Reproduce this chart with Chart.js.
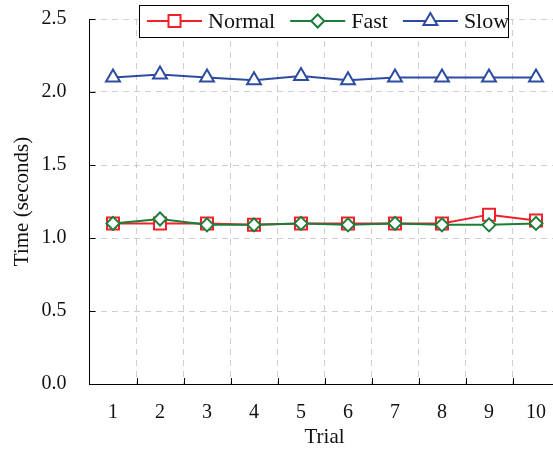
<!DOCTYPE html>
<html>
<head>
<meta charset="utf-8">
<title>Trial times</title>
<script src="https://cdn.jsdelivr.net/npm/chart.js@4.4.1/dist/chart.umd.min.js"></script>
<style>
  html, body { margin: 0; padding: 0; background: #fff; overflow: hidden; }
  #trialChart { display: block; }
</style>
</head>
<body>
<canvas id="trialChart" width="570" height="458"></canvas>
<script>
// --- data ---
const trials = ['1', '2', '3', '4', '5', '6', '7', '8', '9', '10'];
const normalTimes = [1.10, 1.10, 1.10, 1.09, 1.10, 1.10, 1.10, 1.10, 1.16, 1.12];
const fastTimes   = [1.10, 1.13, 1.09, 1.09, 1.10, 1.09, 1.10, 1.09, 1.09, 1.10];
const slowTimes   = [2.10, 2.12, 2.10, 2.08, 2.11, 2.08, 2.10, 2.10, 2.10, 2.10];
const yTicks = [0, 0.5, 1.0, 1.5, 2.0, 2.5];

const SERIF = "'Liberation Serif', 'Times New Roman', serif";
Chart.defaults.font.family = SERIF;
Chart.defaults.color = '#111';

// small tick marks pointing into the plot
const innerTicks = {
    id: 'innerTicks',
    beforeDatasetsDraw(chart) {
        const { ctx, chartArea, scales: { x, y } } = chart;
        ctx.save();
        ctx.strokeStyle = '#000';
        ctx.lineWidth = 1;
        ctx.beginPath();
        y.ticks.forEach(t => {
            const py = Math.round(y.getPixelForValue(t.value)) + 0.5;
            ctx.moveTo(chartArea.left, py);
            ctx.lineTo(chartArea.left + 6, py);
        });
        for (let i = 0; i < trials.length - 1; i++) {
            const px = Math.round((x.getPixelForValue(i) + x.getPixelForValue(i + 1)) / 2) + 0.5;
            ctx.moveTo(px, chartArea.bottom);
            ctx.lineTo(px, chartArea.bottom - 6);
        }
        ctx.stroke();
        ctx.restore();
    }
};

// boxed legend overlapping the top of the plot
const boxLegend = {
    id: 'boxLegend',
    afterDraw(chart) {
        const ctx = chart.ctx;
        const box = { left: 139, top: 5, right: 508, bottom: 37 };
        const cy = 21;
        ctx.save();
        ctx.fillStyle = '#fff';
        ctx.fillRect(box.left, box.top, box.right - box.left, box.bottom - box.top);
        ctx.strokeStyle = '#000';
        ctx.lineWidth = 1;
        ctx.strokeRect(box.left + 0.5, box.top + 0.5, box.right - box.left, box.bottom - box.top);

        ctx.font = '22px ' + SERIF;
        ctx.textBaseline = 'middle';
        ctx.textAlign = 'left';
        let cx = 147;
        chart.data.datasets.forEach(ds => {
            ctx.strokeStyle = ds.borderColor;
            ctx.lineWidth = 2;
            ctx.beginPath();
            ctx.moveTo(cx, cy);
            ctx.lineTo(cx + 55, cy);
            ctx.stroke();
            ctx.fillStyle = '#fff';
            Chart.helpers.drawPoint(ctx, {
                pointStyle: ds.pointStyle, radius: ds.pointRadius, borderWidth: 2, rotation: 0
            }, cx + 27.5, cy);
            ctx.fillStyle = '#111';
            ctx.fillText(ds.label, cx + 61, cy + 1);
            cx += 61 + ctx.measureText(ds.label).width + 15;
        });
        ctx.restore();
    }
};

function series(label, data, color, style, radius, order) {
    return {
        label, data, order,
        borderColor: color,
        backgroundColor: '#fff',
        borderWidth: 2,
        pointStyle: style,
        pointRadius: radius,
        pointBorderWidth: 2,
        pointBackgroundColor: '#fff',
        pointBorderColor: color,
        tension: 0
    };
}

new Chart(document.getElementById('trialChart'), {
    type: 'line',
    data: {
        labels: trials,
        datasets: [
            series('Normal', normalTimes, '#ee2228', 'rect', 8.5, 2),
            series('Fast', fastTimes, '#1b7d3a', 'rectRot', 6.5, 1),
            series('Slow', slowTimes, '#2c4ca0', 'triangle', 8, 0)
        ]
    },
    options: {
        responsive: false,
        animation: false,
        layout: { padding: { top: 19, right: 0, left: 0, bottom: 0 } },
        plugins: { legend: { display: false }, tooltip: { enabled: false } },
        scales: {
            x: {
                offset: true,
                afterFit: s => { s.height = 74; s.paddingLeft = 0; s.paddingRight = 0; },
                grid: { offset: true, color: '#cfcfcf', drawTicks: false },
                border: { color: '#000', width: 1, dash: [6, 5] },
                ticks: { font: { size: 20 }, padding: 17, maxRotation: 0, color: '#111' },
                title: { display: true, text: 'Trial', font: { size: 21 }, padding: { top: 0, bottom: 8 }, color: '#111' }
            },
            y: {
                min: 0,
                max: 2.5,
                afterFit: s => { s.width = 89.5; s.paddingTop = 0; s.paddingBottom = 0; },
                afterBuildTicks: s => { s.ticks = yTicks.map(v => ({ value: v })); },
                grid: { color: '#cfcfcf', drawTicks: false },
                border: { color: '#000', width: 1, dash: [6, 5] },
                ticks: { font: { size: 20 }, padding: 23, color: '#111', callback: v => Number(v).toFixed(1) },
                title: { display: true, text: 'Time (seconds)', font: { size: 21 }, padding: { top: 10, bottom: 0 }, color: '#111' }
            }
        }
    },
    plugins: [innerTicks, boxLegend]
});
</script>
</body>
</html>
